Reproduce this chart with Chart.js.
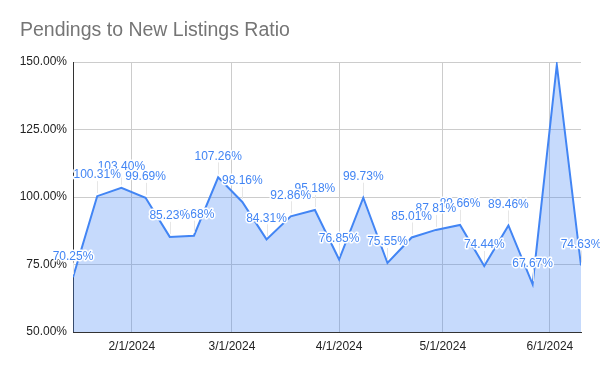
<!DOCTYPE html>
<html>
<head>
<meta charset="utf-8">
<script src="https://cdn.jsdelivr.net/npm/chart.js@4/dist/chart.umd.min.js"></script>
<style>
  html, body { margin: 0; padding: 0; background: #fff; }
  #wrap { width: 600px; height: 371px; }
</style>
</head>
<body>
<div id="wrap"><canvas id="ratioChart" width="600" height="371"></canvas></div>
<script>
// weekly dates (week start) and the ratio in percent
const weeks = [
    '2024-01-15', '2024-01-22', '2024-01-29', '2024-02-05', '2024-02-12', '2024-02-19',
    '2024-02-26', '2024-03-04', '2024-03-11', '2024-03-18', '2024-03-25', '2024-04-01',
    '2024-04-08', '2024-04-15', '2024-04-22', '2024-04-29', '2024-05-06', '2024-05-13',
    '2024-05-20', '2024-05-27', '2024-06-03', '2024-06-10'
];
const ratios = [
    70.25, 100.31, 103.40, 99.69, 85.23, 85.68,
    107.26, 98.16, 84.31, 92.86, 95.18, 76.85,
    99.73, 75.55, 85.01, 87.81, 89.66, 74.44,
    89.46, 67.67, 148.90, 74.63
];
const tickDates = ['2024-02-01', '2024-03-01', '2024-04-01', '2024-05-01', '2024-06-01'];
const tickLabels = ['2/1/2024', '3/1/2024', '4/1/2024', '5/1/2024', '6/1/2024'];

const toDay = s => Date.parse(s + 'T00:00:00Z') / 86400000;
const points = weeks.map((w, i) => ({ x: toDay(w), y: ratios[i] }));
const tickDays = tickDates.map(toDay);

// data labels like the sheets chart: blue text with white halo + faint leader line
const valueLabels = {
    id: 'valueLabels',
    afterDatasetsDraw(chart) {
        const ctx = chart.ctx;
        const meta = chart.getDatasetMeta(0);
        const area = chart.chartArea;
        ctx.save();
        ctx.font = '12px "Liberation Sans", Arial, sans-serif';
        ctx.textAlign = 'center';
        ctx.textBaseline = 'middle';
        for (let i = meta.data.length - 1; i >= 0; i--) {
            const pt = meta.data[i];
            const ly = pt.y - 21;
            if (ly < area.top) continue;
            ctx.strokeStyle = '#e6e6e6';
            ctx.lineWidth = 1;
            ctx.beginPath();
            ctx.moveTo(Math.round(pt.x) + 0.5, ly + 6);
            ctx.lineTo(Math.round(pt.x) + 0.5, pt.y - 3);
            ctx.stroke();
            const txt = ratios[i].toFixed(2) + '%';
            ctx.lineWidth = 3;
            ctx.lineJoin = 'round';
            ctx.strokeStyle = '#ffffff';
            ctx.strokeText(txt, pt.x, ly);
            ctx.fillStyle = '#4285f4';
            ctx.fillText(txt, pt.x, ly);
        }
        ctx.restore();
    }
};

new Chart(document.getElementById('ratioChart'), {
    type: 'line',
    data: {
        datasets: [{
            data: points,
            borderColor: '#4285f4',
            borderWidth: 2,
            backgroundColor: 'rgba(66,133,244,0.3)',
            fill: 'start',
            tension: 0,
            pointRadius: 0,
            pointHoverRadius: 0
        }]
    },
    options: {
        responsive: false,
        animation: false,
        layout: { padding: { left: 20, right: 19, top: 0, bottom: 0 } },
        plugins: {
            legend: { display: false },
            tooltip: { enabled: false },
            title: {
                display: true,
                text: 'Pendings to New Listings Ratio',
                align: 'start',
                color: '#757575',
                font: { family: '"Liberation Sans", Arial, sans-serif', size: 19.5, weight: 'normal' },
                padding: { top: 19, bottom: 19.6 }
            }
        },
        scales: {
            x: {
                type: 'linear',
                min: points[0].x,
                max: points[points.length - 1].x,
                afterBuildTicks: axis => { axis.ticks = tickDays.map(v => ({ value: v })); },
                afterFit: axis => { axis.height = 39; },
                ticks: {
                    autoSkip: false,
                    maxRotation: 0,
                    padding: 7,
                    color: '#222',
                    font: { family: '"Liberation Sans", Arial, sans-serif', size: 12 },
                    callback: v => tickLabels[tickDays.indexOf(v)]
                },
                grid: { color: '#cccccc', drawTicks: false },
                border: { color: '#333333', width: 1 }
            },
            y: {
                min: 50,
                max: 150,
                afterFit: axis => { axis.width = 53; },
                ticks: {
                    stepSize: 25,
                    padding: 6,
                    color: '#222',
                    font: { family: '"Liberation Sans", Arial, sans-serif', size: 12 },
                    callback: v => v.toFixed(2) + '%'
                },
                grid: { color: '#cccccc', drawTicks: false },
                border: { color: '#333333', width: 1 }
            }
        }
    },
    plugins: [valueLabels]
});
</script>
</body>
</html>
